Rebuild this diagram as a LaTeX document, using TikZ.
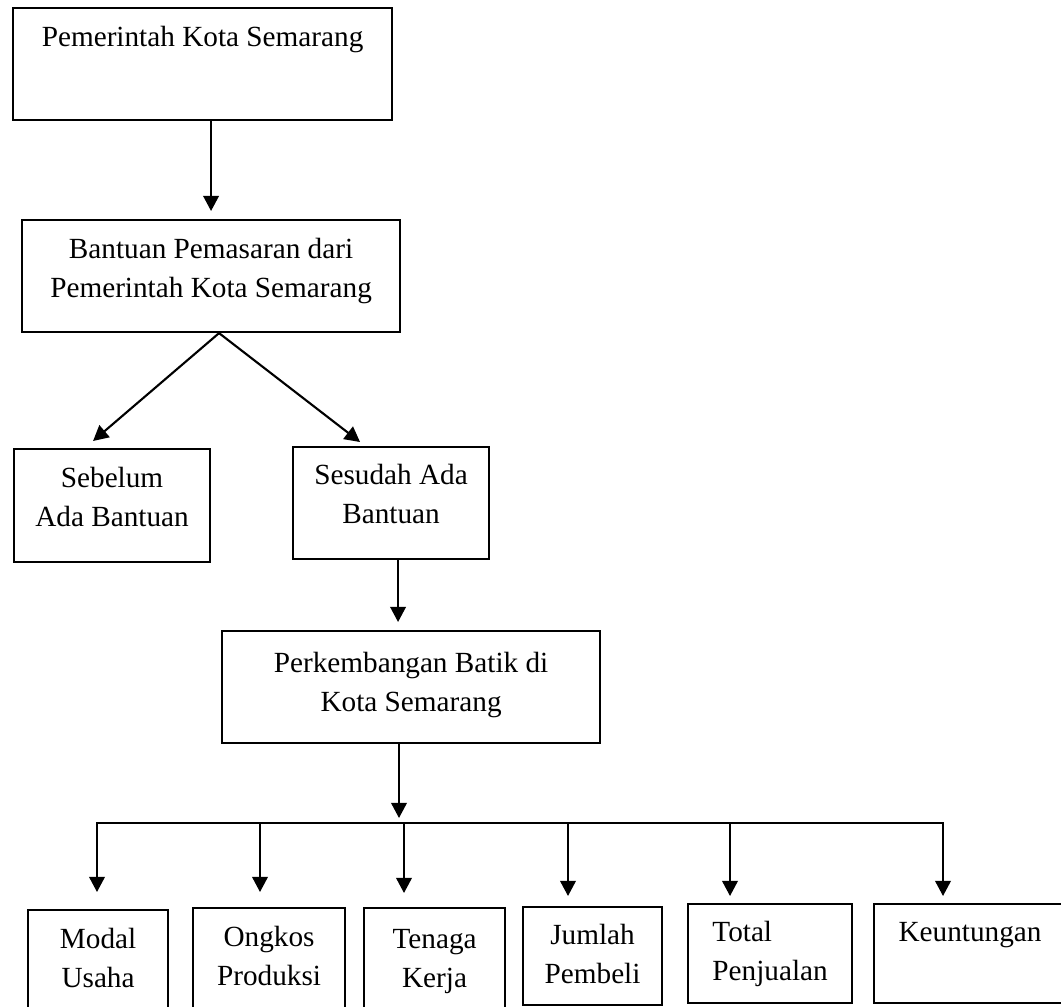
\documentclass[tikz,border=0pt]{standalone}
\usepackage{fontspec}
\setmainfont{Liberation Serif}
\usetikzlibrary{arrows.meta}

\begin{document}
\begin{tikzpicture}[
  x=0.25mm, y=-0.25mm,
  box/.style={draw,line width=1.5pt,anchor=north west,inner sep=0pt,align=center,
              font=\fontsize{20.8pt}{27.7pt}\selectfont},
  flow/.style={-{Triangle[length=3.8mm,width=3.9mm]},line width=1.5pt},
  bus/.style={line width=1.5pt,line cap=rect}
]
\useasboundingbox (0,0) rectangle (1061,1006);

\node[box, minimum width=94.75mm, text height=9.5mm, text depth=18.5mm] (pemkot) at (12,7) {Pemerintah Kota Semarang};
\node[box, minimum width=94.5mm, text height=19.25mm, text depth=8.75mm] (bantuan) at (21,219) {Bantuan Pemasaran dari\\Pemerintah Kota Semarang};
\node[box, minimum width=49mm, text height=19.25mm, text depth=9mm] (sebelum) at (13,448) {Sebelum\\Ada Bantuan};
\node[box, minimum width=49mm, text height=19mm, text depth=9mm] (sesudah) at (292,446) {Sesudah Ada\\Bantuan};
\node[box, minimum width=94.5mm, text height=20mm, text depth=8mm] (batik) at (221,630) {Perkembangan Batik di\\Kota Semarang};

% indikator perkembangan
\node[box, minimum width=35mm, text height=19.25mm, text depth=6mm] (modal) at (27,909) {Modal\\Usaha};
\node[box, minimum width=38mm, text height=19.25mm, text depth=6.5mm] (ongkos) at (192,907) {Ongkos\\Produksi};
\node[box, minimum width=35.25mm, text height=19.75mm, text depth=6mm] (tenaga) at (363,907) {Tenaga\\Kerja};
\node[box, minimum width=34.75mm, text height=19mm, text depth=5.5mm] (jumlah) at (522,906) {Jumlah\\Pembeli};
\node[box, align=left, minimum width=41mm, text height=19mm, text depth=5.75mm] (total) at (687,903) {Total\\Penjualan};
\node[box, minimum width=48mm, text height=9.25mm, text depth=15.5mm] (untung) at (873,903) {Keuntungan};

\draw[flow, shorten >=2mm] (pemkot.south -| bantuan.north) -- (bantuan.north);

\coordinate (split) at ([xshift=2mm]bantuan.south);
\draw[flow] (split) -- ([xshift=-4.75mm,yshift=1.75mm]sebelum.north);
\draw[flow] (split) -- ([xshift=-7.75mm,yshift=1mm]sesudah.north);

\coordinate (down) at ([xshift=1.75mm]sesudah.south);
\draw[flow, shorten >=2mm] (down) -- (down |- batik.north);

\coordinate (busin) at (399,823);
\coordinate (busW) at (97,823);
\coordinate (busE) at (943,823);
\draw[flow, shorten >=1.25mm] (batik.south -| busin) -- (busin);
\draw[bus] (busW) -- (busE);

\foreach \dx/\target/\gap in {97/modal/4.25mm, 260/ongkos/3.75mm, 404/tenaga/3.5mm,
                              568/jumlah/2.5mm, 730/total/1.75mm, 943/untung/1.75mm}
  \draw[flow, shorten >=\gap] (\dx,823) -- (\dx,823 |- \target.north);
\end{tikzpicture}
\end{document}
